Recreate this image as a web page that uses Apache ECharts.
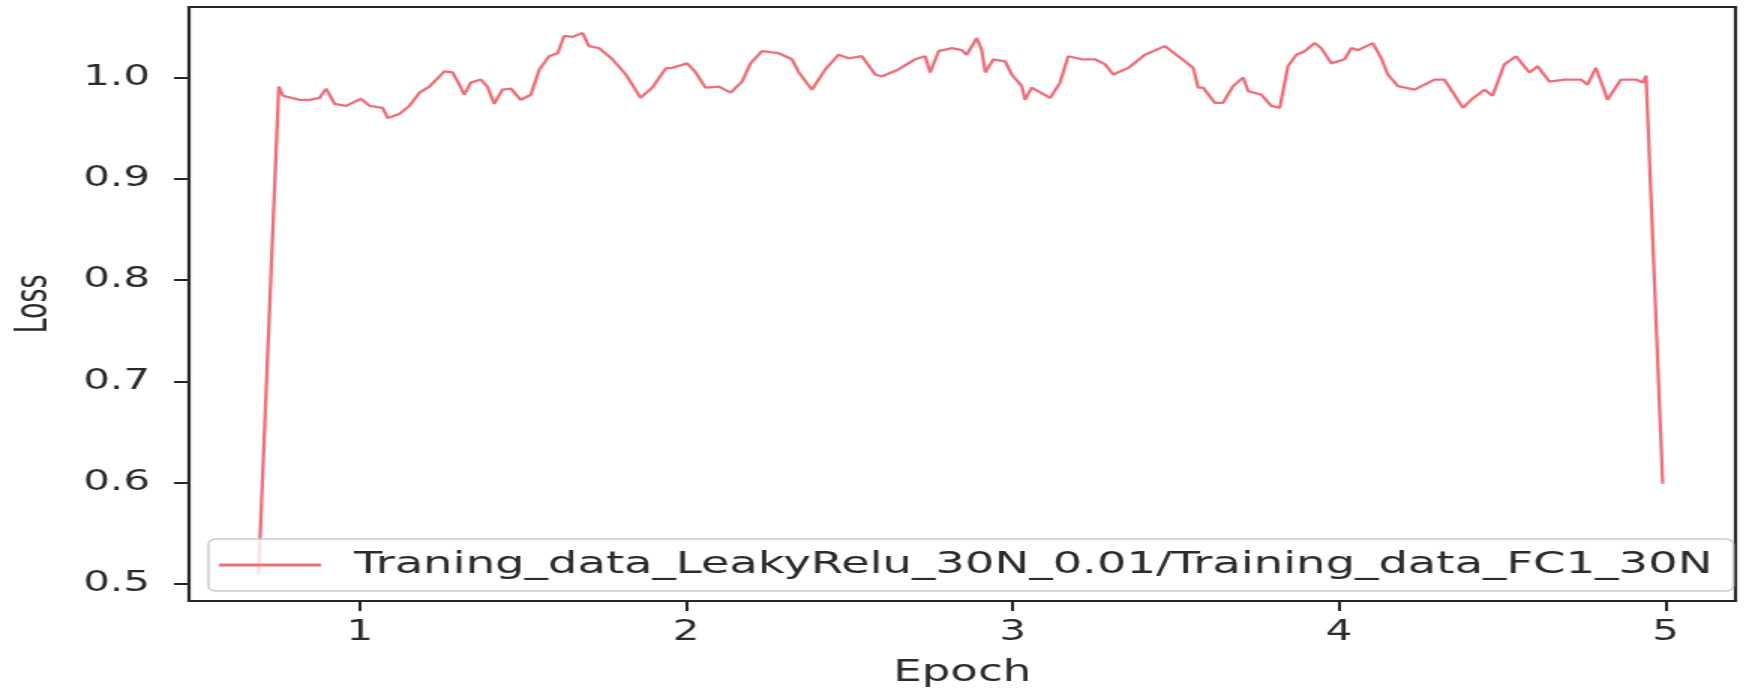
<!DOCTYPE html>
<html>
<head>
<meta charset="utf-8">
<title>Loss</title>
<script src="https://cdn.jsdelivr.net/npm/echarts@6/dist/echarts.min.js"></script>
<style>
  html, body { margin: 0; padding: 0; background: #fff; overflow: hidden; }
  /* the figure is drawn at 1168px wide and stretched horizontally to 1752px */
  #chart { width: 1168px; height: 693px; transform: scaleX(1.5); transform-origin: 0 0; }
</style>
</head>
<body>
<div id="chart"></div>
<script>
// epoch positions of the smoothed loss samples
const epochs = [
  0.690, 0.752, 0.765, 0.816, 0.846, 0.877, 0.897, 0.923, 0.958, 1.004,
  1.030, 1.070, 1.086, 1.121, 1.152, 1.183, 1.213, 1.244, 1.259, 1.284,
  1.305, 1.320, 1.340, 1.371, 1.391, 1.412, 1.437, 1.463, 1.493, 1.524,
  1.550, 1.580, 1.606, 1.626, 1.651, 1.682, 1.702, 1.733, 1.774, 1.815,
  1.860, 1.896, 1.937, 1.957, 2.003, 2.029, 2.059, 2.100, 2.136, 2.171,
  2.197, 2.232, 2.283, 2.324, 2.345, 2.385, 2.426, 2.467, 2.497, 2.538,
  2.579, 2.599, 2.650, 2.701, 2.732, 2.747, 2.773, 2.814, 2.844, 2.859,
  2.890, 2.905, 2.916, 2.941, 2.977, 2.997, 3.028, 3.038, 3.058, 3.115,
  3.145, 3.170, 3.211, 3.252, 3.283, 3.308, 3.354, 3.405, 3.466, 3.527,
  3.553, 3.568, 3.583, 3.619, 3.644, 3.675, 3.706, 3.721, 3.762, 3.792,
  3.818, 3.843, 3.869, 3.894, 3.925, 3.945, 3.976, 4.017, 4.037, 4.058,
  4.103, 4.129, 4.149, 4.180, 4.231, 4.292, 4.322, 4.353, 4.379, 4.404,
  4.445, 4.470, 4.506, 4.542, 4.567, 4.583, 4.608, 4.644, 4.690, 4.740,
  4.761, 4.786, 4.802, 4.822, 4.863, 4.909, 4.930, 4.940, 4.991
];

// loss ratio LeakyRelu / FC1 at each epoch position
const loss = [
  0.510, 0.991, 0.982, 0.978, 0.978, 0.980, 0.989, 0.974, 0.972, 0.979,
  0.972, 0.970, 0.960, 0.964, 0.972, 0.985, 0.991, 1.001, 1.006, 1.005,
  0.993, 0.983, 0.995, 0.998, 0.991, 0.974, 0.988, 0.989, 0.978, 0.983,
  1.008, 1.021, 1.024, 1.041, 1.040, 1.044, 1.031, 1.029, 1.018, 1.003,
  0.980, 0.990, 1.009, 1.0095, 1.014, 1.005, 0.990, 0.991, 0.985, 0.996,
  1.014, 1.026, 1.024, 1.018, 1.005, 0.988, 1.008, 1.0225, 1.019, 1.021,
  1.003, 1.001, 1.008, 1.018, 1.021, 1.005, 1.026, 1.029, 1.027, 1.0225,
  1.039, 1.027, 1.005, 1.018, 1.016, 1.003, 0.9915, 0.978, 0.990, 0.980,
  0.995, 1.021, 1.018, 1.018, 1.013, 1.003, 1.0095, 1.0225, 1.031, 1.016,
  1.0095, 0.990, 0.990, 0.975, 0.975, 0.9915, 1.000, 0.9866, 0.983, 0.972,
  0.970, 1.011, 1.0225, 1.026, 1.034, 1.029, 1.014, 1.018, 1.029, 1.027,
  1.034, 1.019, 1.003, 0.9915, 0.988, 0.998, 0.998, 0.983, 0.970, 0.978,
  0.988, 0.982, 1.013, 1.021, 1.011, 1.005, 1.011, 0.996, 0.998, 0.998,
  0.993, 1.0095, 0.996, 0.978, 0.998, 0.998, 0.995, 1.002, 0.599
];

const xTicks = [1, 2, 3, 4, 5];
const yTicks = [0.5, 0.6, 0.7, 0.8, 0.9, 1.0];
const seriesName = 'Traning_data_LeakyRelu_30N_0.01/Training_data_FC1_30N';

const points = epochs.map((e, i) => [e, loss[i]]);

const font = "'DejaVu Sans', 'Noto Sans', sans-serif";
const ink = '#2b2b2b';
const lineColor = '#ef6f78';

const chart = echarts.init(document.getElementById('chart'), null, { renderer: 'canvas' });

chart.setOption({
  backgroundColor: '#ffffff',
  animation: false,
  grid: {
    left: 124, right: 11, top: 7, bottom: 88,
    show: true, borderColor: '#262626', borderWidth: 2.2, backgroundColor: 'transparent'
  },
  legend: {
    left: 139, top: 539,
    padding: [10, 14, 10, 7],
    icon: 'rect',
    itemWidth: 68, itemHeight: 3,
    backgroundColor: 'rgba(255,255,255,0.8)',
    borderColor: '#cccccc', borderWidth: 1.5, borderRadius: 5,
    textStyle: {
      fontFamily: font, fontSize: 31, color: ink, lineHeight: 32,
      padding: [0, 0, 0, 17]
    },
    data: [seriesName]
  },
  xAxis: {
    type: 'value',
    min: 0.477, max: 5.214,
    name: 'Epoch', nameLocation: 'middle', nameGap: 57,
    nameTextStyle: { fontFamily: font, fontSize: 30, color: ink },
    axisLine: { show: false },
    axisTick: { show: true, customValues: xTicks, length: 10, lineStyle: { color: '#262626', width: 2 } },
    axisLabel: { customValues: xTicks, margin: 18, fontFamily: font, fontSize: 28, color: ink,
                 formatter: v => String(Math.round(v)) },
    splitLine: { show: false }
  },
  yAxis: {
    type: 'value',
    min: 0.4833, max: 1.0696,
    name: 'Loss', nameLocation: 'middle', nameGap: 88,
    nameTextStyle: { fontFamily: "'DejaVu Sans Condensed', 'Liberation Sans Narrow', 'DejaVu Sans', sans-serif",
                     fontSize: 30, color: ink },
    axisLine: { show: false },
    axisTick: { show: true, customValues: yTicks, length: 10, lineStyle: { color: '#262626', width: 2 } },
    axisLabel: { customValues: yTicks, margin: 26, fontFamily: font, fontSize: 28, color: ink,
                 formatter: v => v.toFixed(1) },
    splitLine: { show: false }
  },
  series: [{
    name: seriesName,
    type: 'line',
    data: points,
    symbol: 'none',
    lineStyle: { color: lineColor, width: 2.3 },
    itemStyle: { color: lineColor },
    z: 2
  }]
});
</script>
</body>
</html>
